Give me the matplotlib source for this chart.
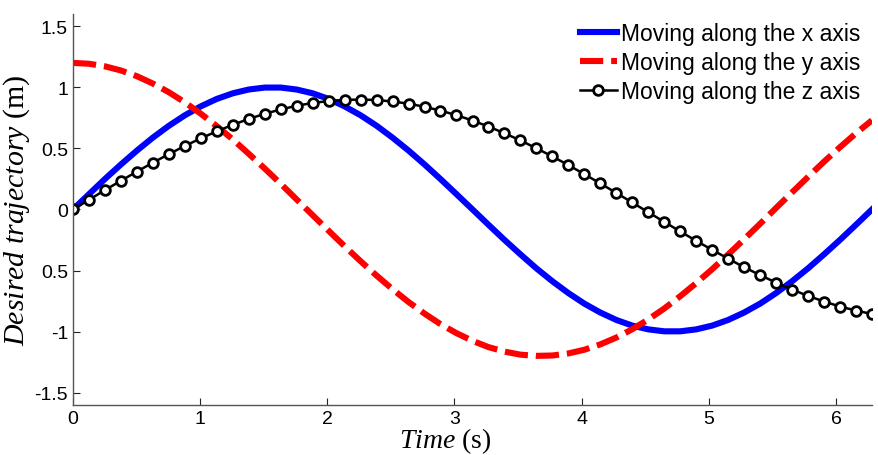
import matplotlib
matplotlib.use('Agg')
import matplotlib.pyplot as plt

plt.rcParams.update({'font.family': 'Liberation Sans'})
plt.rcParams.update({'mathtext.fontset': 'custom',
                     'mathtext.rm': 'Liberation Serif',
                     'mathtext.it': 'Liberation Serif:italic'})

# Time samples (s)
time_s = [0.000, 0.126, 0.251, 0.377, 0.503, 0.628, 0.754, 0.880, 1.005, 1.131,
          1.257, 1.382, 1.508, 1.634, 1.759, 1.885, 2.011, 2.136, 2.262, 2.388,
          2.513, 2.639, 2.765, 2.890, 3.016, 3.142, 3.267, 3.393, 3.519, 3.644,
          3.770, 3.896, 4.021, 4.147, 4.273, 4.398, 4.524, 4.650, 4.775, 4.901,
          5.027, 5.152, 5.278, 5.404, 5.529, 5.655, 5.781, 5.906, 6.032, 6.158,
          6.283]

# Moving along the x axis
x_traj = [0.000, 0.125, 0.249, 0.368, 0.482, 0.588, 0.685, 0.771, 0.844, 0.905,
          0.951, 0.982, 0.998, 0.998, 0.982, 0.951, 0.905, 0.844, 0.771, 0.685,
          0.588, 0.482, 0.368, 0.249, 0.125, 0.000, -0.125, -0.249, -0.368, -0.482,
          -0.588, -0.685, -0.771, -0.844, -0.905, -0.951, -0.982, -0.998, -0.998, -0.982,
          -0.951, -0.905, -0.844, -0.771, -0.685, -0.588, -0.482, -0.368, -0.249, -0.125,
          0.000]

# Moving along the y axis
y_traj = [1.200, 1.193, 1.172, 1.138, 1.091, 1.031, 0.960, 0.877, 0.784, 0.682,
          0.573, 0.456, 0.335, 0.210, 0.082, -0.047, -0.175, -0.301, -0.424, -0.542,
          -0.653, -0.758, -0.853, -0.939, -1.013, -1.076, -1.127, -1.164, -1.189, -1.199,
          -1.196, -1.179, -1.149, -1.105, -1.049, -0.981, -0.901, -0.811, -0.711, -0.603,
          -0.489, -0.369, -0.244, -0.117, 0.012, 0.140, 0.267, 0.391, 0.510, 0.624,
          0.730]

# Moving along the z axis
z_traj = [0.000, 0.079, 0.158, 0.235, 0.310, 0.383, 0.453, 0.520, 0.582, 0.640,
          0.693, 0.741, 0.783, 0.819, 0.849, 0.872, 0.888, 0.897, 0.900, 0.896,
          0.884, 0.866, 0.841, 0.809, 0.772, 0.728, 0.679, 0.624, 0.565, 0.501,
          0.434, 0.363, 0.289, 0.213, 0.135, 0.057, -0.023, -0.102, -0.180, -0.257,
          -0.331, -0.403, -0.473, -0.538, -0.599, -0.656, -0.708, -0.754, -0.795, -0.828,
          -0.856]

x_ticks = [0, 1, 2, 3, 4, 5, 6]
y_ticks = [-1.5, -1, -0.5, 0, 0.5, 1, 1.5]
y_tick_labels = ['-1.5', '-1', '0.5', '0', '0.5', '1', '1.5']

fig = plt.figure(figsize=(8.79, 4.56), dpi=100)
ax = fig.add_axes([0.083, 0.110, 0.909, 0.857])

ax.plot(time_s, x_traj, color='#0000ff', linewidth=4.4,
        label='Moving along the x axis')
ax.plot(time_s, y_traj, color='#ff0000', linewidth=4.4, dashes=(3.8, 1.3),
        dash_capstyle='butt', label='Moving along the y axis')
ax.plot(time_s, z_traj, color='black', linewidth=1.8, marker='o',
        markersize=7, markerfacecolor='white', markeredgecolor='black',
        markeredgewidth=2.0, label='Moving along the z axis')

ax.set_xlim(0, 6.2832)
ax.set_ylim(-1.6, 1.6)
ax.set_xticks(x_ticks)
ax.set_yticks(y_ticks)
ax.set_yticklabels(y_tick_labels)
ax.tick_params(labelsize=14, direction='in', length=5, width=0.8, colors='#222222')
for lbl in ax.get_xticklabels() + ax.get_yticklabels():
    lbl.set_color('black')

for side in ['top', 'right']:
    ax.spines[side].set_visible(False)
for side in ['left', 'bottom']:
    ax.spines[side].set_color('#555555')
    ax.spines[side].set_linewidth(1.0)

ax.set_xlabel(r'$\mathit{Time}$ (s)', fontsize=20, family='Liberation Serif',
              labelpad=0)
ax.xaxis.set_label_coords(0.466, -0.053, transform=ax.transAxes)
ax.xaxis.label.set_verticalalignment('top')
ax.set_ylabel(r'$\mathit{Desired\ trajectory}$ (m)', fontsize=21.5,
              family='Liberation Serif', labelpad=2)

ax.legend(loc='upper right', frameon=False, fontsize=16.5, handlelength=1.6,
          handletextpad=0.2, labelspacing=0.28, markerscale=1.0,
          bbox_to_anchor=(1.0, 1.01), borderaxespad=0.1)

fig.savefig('out.png', dpi=100)
